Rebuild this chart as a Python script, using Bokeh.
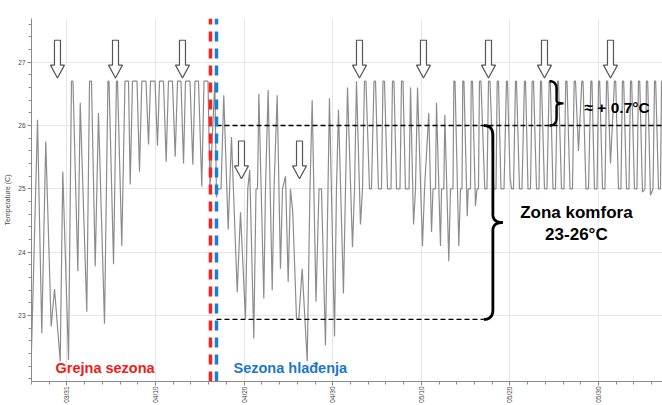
import numpy as np
from bokeh.plotting import figure
from bokeh.models import FixedTicker, Range1d, Label
from bokeh.embed import file_html
from bokeh.resources import INLINE

# Indoor temperature log (x: days since 27 March, y: degrees C)
heat_day = [0.00, 0.68, 1.16, 1.61, 2.22, 2.60, 3.24, 3.53, 4.18, 4.51, 4.68, 5.23, 5.50, 6.24,
            6.55, 6.77, 7.19, 7.56, 8.24, 8.63, 8.75, 9.26, 9.59, 9.71, 10.19, 10.55, 10.95,
            11.14, 11.40, 11.91, 12.19, 12.45, 12.92, 13.21, 13.43, 13.94, 14.22, 14.45, 14.90,
            15.20, 15.46, 15.91, 16.22, 16.48, 16.87, 17.16, 17.38, 17.89, 18.21, 18.45, 18.85,
            19.22, 19.47, 19.92, 20.15]
heat_temp = [22.45, 26.09, 22.72, 25.75, 22.83, 23.42, 22.28, 25.27, 22.30, 26.70, 26.70, 23.70,
             26.36, 23.06, 26.70, 26.70, 23.78, 26.20, 22.87, 26.70, 26.70, 23.81, 26.70, 26.70,
             24.10, 26.70, 26.70, 25.07, 26.70, 26.70, 25.27, 26.70, 26.70, 25.70, 26.70, 26.70,
             25.68, 26.70, 26.70, 25.43, 26.70, 26.70, 25.51, 26.70, 26.70, 25.40, 26.70, 26.70,
             25.38, 26.70, 26.70, 25.04, 26.70, 26.70, 25.02]

cool_day = [20.69, 20.88, 21.05, 21.39, 21.70, 22.20, 22.57, 23.22, 23.59, 24.15, 24.41, 24.63,
            25.09, 25.34, 25.51, 25.66, 26.22, 26.41, 26.71, 27.17, 27.37, 27.73, 28.10, 28.33,
            28.67, 28.97, 29.23, 29.49, 29.91, 30.17, 30.55, 31.12, 31.43, 31.68, 32.11, 32.45,
            32.73, 33.18, 33.63, 34.20, 34.42, 34.65, 35.21, 35.44, 35.67, 36.23, 36.46, 36.68,
            37.13, 37.36, 37.58, 37.75, 38.15, 38.37, 38.66, 38.83, 39.16, 39.50, 39.67, 39.84,
            40.18, 40.58, 40.74, 40.91, 41.20, 41.59, 41.76, 41.93, 42.21, 42.61, 42.78, 43.12,
            43.34, 43.57, 44.13, 44.36, 44.84, 45.15, 45.32, 45.60, 45.71, 46.16, 46.28, 46.54,
            46.65, 47.10, 47.29, 47.57, 47.67, 47.80, 48.23, 48.42, 48.59, 48.68, 48.81, 49.18,
            49.29, 49.55, 49.63, 49.77, 50.11, 50.28, 50.45, 50.56, 50.73, 51.16, 51.41, 51.58,
            51.75, 52.18, 52.43, 52.56, 52.71, 52.99, 53.33, 53.61, 53.72, 54.01, 54.18, 54.40,
            54.63, 54.74, 55.08, 55.36, 55.64, 55.76, 56.04, 56.32, 56.51, 56.66, 57.00, 57.28,
            57.45, 57.56, 57.90, 58.18, 58.43, 58.56, 58.86, 59.14, 59.37, 59.48, 59.82, 60.10,
            60.30, 60.44, 60.78, 61.06, 61.25, 61.40, 61.74, 62.11, 62.25, 62.58, 62.87, 63.13,
            63.26, 63.54, 63.83, 64.00, 64.13, 64.45, 64.73, 64.90, 65.03, 65.35, 65.80, 65.94,
            66.25, 66.53, 66.70, 66.84, 67.16, 67.44, 67.61, 67.74, 68.06, 68.34, 68.51, 68.65,
            68.96, 69.24, 69.41, 69.55, 69.86, 70.15, 70.32, 70.45, 70.77, 70.99, 71.11, 71.22]
cool_temp = [26.70, 24.87, 25.00, 25.00, 26.48, 24.36, 25.82, 23.37, 24.63, 22.95, 25.00, 25.30,
             22.64, 25.00, 25.00, 26.50, 23.27, 25.00, 26.56, 23.40, 25.00, 26.48, 23.74, 25.00,
             25.20, 23.53, 25.00, 24.63, 22.95, 22.95, 23.74, 22.28, 25.00, 26.40, 23.22, 25.00,
             25.00, 22.53, 26.43, 22.67, 25.00, 26.25, 23.35, 25.00, 26.60, 24.08, 25.00, 26.70,
             24.44, 25.00, 26.70, 26.70, 25.00, 25.00, 26.70, 26.70, 25.00, 25.00, 26.70, 26.70,
             25.00, 25.00, 26.70, 26.70, 25.00, 25.00, 26.70, 26.70, 25.00, 25.00, 26.60, 24.44,
             25.00, 26.60, 24.10, 25.00, 26.20, 24.32, 25.00, 25.00, 26.36, 24.10, 25.00, 25.00,
             26.17, 23.86, 25.00, 25.00, 26.70, 26.70, 24.10, 25.00, 25.00, 26.70, 26.70, 24.57,
             25.00, 25.00, 26.70, 26.70, 24.73, 25.00, 25.00, 26.70, 26.70, 25.00, 25.00, 26.70,
             26.70, 25.00, 25.00, 26.70, 26.70, 25.00, 25.00, 26.70, 26.70, 25.20, 25.00, 25.00,
             26.70, 26.70, 25.00, 25.00, 26.70, 26.70, 25.00, 25.00, 26.70, 26.70, 25.00, 25.00,
             26.70, 26.70, 25.00, 25.00, 26.70, 26.70, 25.00, 25.00, 26.70, 26.70, 25.00, 25.00,
             26.70, 26.70, 25.00, 25.00, 26.70, 26.70, 25.60, 26.70, 26.70, 25.00, 25.00, 26.70,
             26.70, 25.00, 25.00, 26.70, 26.70, 25.00, 25.00, 26.70, 26.70, 25.40, 26.70, 26.70,
             25.00, 25.00, 26.70, 26.70, 25.00, 25.00, 26.70, 26.70, 25.00, 25.00, 26.70, 26.70,
             24.95, 25.00, 26.70, 26.70, 24.90, 25.00, 26.70, 26.70, 25.00, 25.00, 26.70, 26.70]

# Axis ticks
x_tick_days = [4, 14, 24, 34, 44, 54, 64]
x_tick_labels = ["03/31", "04/10", "04/20", "04/30", "05/10", "05/20", "05/30"]
y_ticks = [23, 24, 25, 26, 27]

# Season boundaries and comfort zone
heating_end = 20.20
cooling_start = 20.88
comfort_low = 22.94
comfort_high = 26.0
cooling_cap = 26.7
comfort_brace_day = 51.06
cap_brace_day = 58.47

# Down arrows marking the daily peaks
arrow_top_days = [2.93, 9.48, 17.04, 37.02, 44.24, 51.58, 57.90, 65.35]
arrow_top_tip = 26.75
arrow_low_days = [23.70, 30.25]
arrow_low_tip = 25.16

X0, X1 = 0.0, 71.22
Y0, Y1 = 21.96, 27.69
W, H = 662, 405
BL, BR, BT, BB = 31, 0, 18, 22
ppx = (X1 - X0) / (W - BL - BR)   # days per screen pixel
ppy = (Y1 - Y0) / (H - BT - BB)   # degrees per screen pixel

FONT = "Liberation Sans"

p = figure(width=W, height=H, x_range=Range1d(X0, X1), y_range=Range1d(Y0, Y1),
           output_backend="svg", toolbar_location=None,
           min_border_left=BL, min_border_right=BR, min_border_top=BT, min_border_bottom=BB)
p.outline_line_color = None
p.background_fill_color = "white"
p.border_fill_color = "white"

# axes
p.xaxis.ticker = FixedTicker(ticks=x_tick_days, minor_ticks=list(range(0, 72, 2)))
p.xaxis.major_label_overrides = {d: s for d, s in zip(x_tick_days, x_tick_labels)}
p.xaxis.major_label_orientation = np.pi / 2
p.yaxis.ticker = FixedTicker(ticks=y_ticks, minor_ticks=[round(22.0 + 0.2 * i, 1) for i in range(29)])
p.yaxis.axis_label = "Temperature (C)"
for ax in (p.xaxis[0], p.yaxis[0]):
    ax.axis_line_color = "#8a8a8a"
    ax.major_tick_line_color = "#8a8a8a"
    ax.minor_tick_line_color = "#8a8a8a"
    ax.major_tick_in = 0
    ax.minor_tick_in = 0
    ax.major_tick_out = 4
    ax.minor_tick_out = 3
    ax.major_label_text_font = FONT
    ax.major_label_text_font_size = "6.5px"
    ax.major_label_text_color = "#444444"
    ax.major_label_standoff = 2
p.yaxis.axis_label_text_font = FONT
p.yaxis.axis_label_text_font_size = "7px"
p.yaxis.axis_label_text_font_style = "normal"
p.yaxis.axis_label_text_color = "#444444"
p.yaxis.axis_label_standoff = 4
p.xaxis.major_label_standoff = 1

p.xgrid.ticker = FixedTicker(ticks=x_tick_days)
p.ygrid.ticker = FixedTicker(ticks=y_ticks)
p.grid.grid_line_color = "#e6e6e6"
p.grid.grid_line_width = 1

# temperature trace
p.line(heat_day + cool_day, heat_temp + cool_temp, line_color="#8c8c8c", line_width=1.2)

# comfort zone limits
p.line([cooling_start, X1], [comfort_high, comfort_high], line_color="black",
       line_width=1.4, line_dash="5 3")
p.line([cooling_start, comfort_brace_day], [comfort_low, comfort_low], line_color="black",
       line_width=1.4, line_dash="5 3")

# season boundaries
p.line([heating_end, heating_end], [Y0, Y1], line_color="#ff1f1f", line_width=3.5, line_dash="10 7")
p.line([cooling_start, cooling_start], [Y0, Y1], line_color="#1a7fd4", line_width=3.5, line_dash="10 7")


def quad(p0, c, p1, n=12):
    t = np.linspace(0, 1, n)
    x = (1 - t) ** 2 * p0[0] + 2 * (1 - t) * t * c[0] + t ** 2 * p1[0]
    y = (1 - t) ** 2 * p0[1] + 2 * (1 - t) * t * c[1] + t ** 2 * p1[1]
    return list(x), list(y)


def brace(day, lo, hi, w, tip, r, r2):
    """Right-pointing curly brace between lo and hi; w/tip/r/r2 in screen pixels."""
    mid = (lo + hi) / 2
    xw, xt = day + w * ppx, day + (w + tip) * ppx
    xs, ys = [], []
    for seg in (quad((day, hi), (xw, hi), (xw, hi - r * ppy)),
                quad((xw, mid + r2 * ppy), (xw, mid), (xt, mid)),
                quad((xt, mid), (xw, mid), (xw, mid - r2 * ppy)),
                quad((xw, lo + r * ppy), (xw, lo), (day, lo))):
        xs += seg[0]
        ys += seg[1]
    return xs, ys


bx, by = brace(comfort_brace_day, comfort_low, comfort_high, 9, 10, 10, 8)
p.line(bx, by, line_color="black", line_width=2.8)
sx, sy = brace(cap_brace_day, comfort_high, cooling_cap, 7, 7, 8, 3)
p.line(sx, sy, line_color="black", line_width=2.4)


def arrow(day, tip):
    xs = [day, day - 7 * ppx, day - 3 * ppx, day - 3 * ppx, day + 3 * ppx, day + 3 * ppx, day + 7 * ppx]
    ys = [tip, tip + 13 * ppy, tip + 13 * ppy, tip + 38 * ppy, tip + 38 * ppy, tip + 13 * ppy, tip + 13 * ppy]
    return xs, ys


axs, ays = [], []
for d in arrow_top_days:
    a = arrow(d, arrow_top_tip)
    axs.append(a[0]); ays.append(a[1])
for d in arrow_low_days:
    a = arrow(d, arrow_low_tip)
    axs.append(a[0]); ays.append(a[1])
p.patches(axs, ays, fill_color="white", line_color="#555555", line_width=1.2)

# text annotations
p.add_layout(Label(x=62.42, y=26.28, text="≈ + 0.7°C", text_align="left", text_baseline="middle",
                   text_font=FONT, text_font_style="bold", text_font_size="15.5px", text_color="black"))
p.add_layout(Label(x=61.5, y=24.63, text="Zona komfora", text_align="center", text_baseline="middle",
                   text_font=FONT, text_font_style="bold", text_font_size="17px", text_color="black"))
p.add_layout(Label(x=61.5, y=24.28, text="23-26°C", text_align="center", text_baseline="middle",
                   text_font=FONT, text_font_style="bold", text_font_size="17px", text_color="black"))
p.add_layout(Label(x=2.71, y=22.17, text="Grejna sezona", text_align="left", text_baseline="middle",
                   text_font=FONT, text_font_style="bold", text_font_size="14.5px", text_color="#f01a1a"))
p.add_layout(Label(x=22.8, y=22.17, text="Sezona hlađenja", text_align="left", text_baseline="middle",
                   text_font=FONT, text_font_style="bold", text_font_size="14.5px", text_color="#1a78c8"))

open("out.html", "w").write(file_html(p, INLINE))
